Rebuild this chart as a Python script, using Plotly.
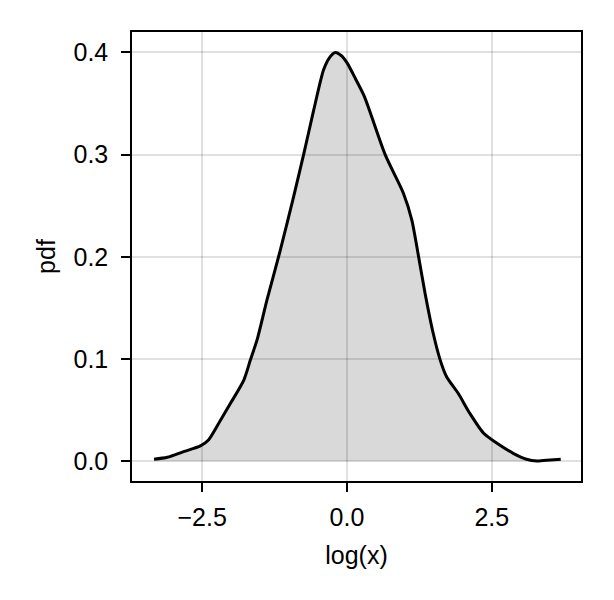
import plotly.graph_objects as go

log_x = [-3.33, -3.10, -2.82, -2.53, -2.39, -2.18, -2.01, -1.78, -1.667, -1.55,
         -1.38, -1.15, -0.92, -0.748, -0.576, -0.403, -0.30, -0.20, -0.10,
         0.0, 0.15, 0.30, 0.66, 0.976, 1.12, 1.217, 1.35,
         1.49, 1.61, 1.72, 1.92, 2.12, 2.36, 2.59, 2.87, 3.10, 3.28,
         3.51, 3.69]
pdf = [0.002, 0.0039, 0.0094, 0.015, 0.0208, 0.0404, 0.0567, 0.0795, 0.099, 0.119,
       0.158, 0.2065, 0.259, 0.300, 0.343, 0.383, 0.395, 0.400, 0.397,
       0.390, 0.374, 0.357, 0.300, 0.262, 0.236, 0.2065, 0.164,
       0.125, 0.099, 0.0827, 0.0665, 0.047, 0.0274, 0.0176, 0.0078, 0.002, 0.0003,
       0.0013, 0.002]

x_ticks = [-2.5, 0.0, 2.5]
x_tick_labels = ["−2.5", "0.0", "2.5"]
y_ticks = [0.0, 0.1, 0.2, 0.3, 0.4]
y_tick_labels = ["0.0", "0.1", "0.2", "0.3", "0.4"]

fig = go.Figure()
fig.add_trace(go.Scatter(
    x=log_x, y=pdf, mode="lines",
    line=dict(color="black", width=3, shape="spline", smoothing=0.7),
    fill="tozeroy", fillcolor="rgba(0,0,0,0.15)",
    showlegend=False,
))

font_family = "Liberation Sans, Arial, sans-serif"
axis_common = dict(
    showline=True, linecolor="black", linewidth=1.5, mirror=True,
    ticks="outside", ticklen=9, tickcolor="black", tickwidth=1.5,
    showgrid=True, gridcolor="rgba(0,0,0,0.12)", gridwidth=1.5,
    zeroline=False,
    tickfont=dict(size=25, color="black", family=font_family),
)

# page body has an 8px margin, so margins are shifted to compensate
fig.update_layout(
    width=614, height=600,
    margin=dict(l=124, r=41, t=24, b=127),
    paper_bgcolor="white", plot_bgcolor="white",
    font=dict(family=font_family, size=25, color="black"),
    xaxis=dict(range=[-3.71, 4.04], tickvals=x_ticks, ticktext=x_tick_labels,
               title=dict(text="log(x)", standoff=17, font=dict(size=25)),
               ticklabelstandoff=4, **axis_common),
    yaxis=dict(range=[-0.0193, 0.42], tickvals=y_ticks, ticktext=y_tick_labels,
               title=dict(text="pdf", standoff=11, font=dict(size=25)),
               ticklabelstandoff=8, **axis_common),
)

fig.write_html("out.html")
